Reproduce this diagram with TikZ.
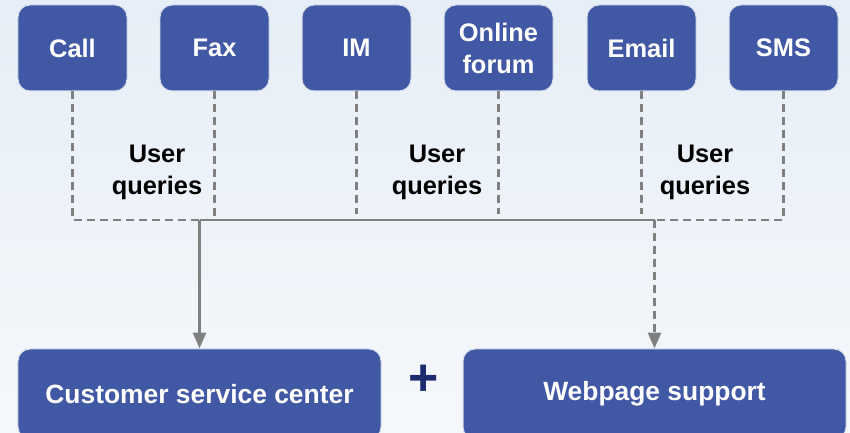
\documentclass[tikz,border=0pt]{standalone}
\usepackage{fontspec}
\setmainfont{Liberation Sans}
\usetikzlibrary{arrows.meta}
\definecolor{boxblue}{HTML}{4158A4}
\definecolor{boxedge}{HTML}{D5DDEA}
\definecolor{linegray}{HTML}{808080}
\definecolor{navy}{HTML}{1C2A6E}
\definecolor{skytop}{HTML}{E6EEF7}
\definecolor{skybot}{HTML}{F5F8FB}
\tikzset{
  chan/.style={draw=boxedge, line width=1pt, fill=boxblue, rounded corners=12bp,
    minimum width=109bp, minimum height=86bp, text=white, align=center,
    font=\bfseries\fontsize{25.5}{32}\selectfont, inner sep=0pt},
  bigbox/.style={chan, minimum height=90bp, font=\bfseries\fontsize{26.5}{32}\selectfont},
  dashline/.style={draw=linegray, line width=2.8bp, dash pattern=on 8bp off 5bp},
  solidline/.style={draw=linegray, line width=2.8bp},
  tip/.style={-{Triangle[width=13bp,length=16bp]}},
  lbl/.style={align=center, font=\bfseries\fontsize{25.5}{32}\selectfont, text=black}
}
\begin{document}
\begin{tikzpicture}[x=1bp,y=-1bp]
\useasboundingbox (0,0) rectangle (850,433);
\shade[top color=skytop, bottom color=skybot] (0,0) rectangle (850,433);
\node[chan] (call) at (72.5,48) {Call};
\node[chan] (fax) at (214.5,48) {Fax};
\node[chan] (im) at (356.5,48) {IM};
\node[chan] (forum) at (498.5,48) {Online\\forum};
\node[chan] (email) at (641.5,48) {Email};
\node[chan] (sms) at (783.5,48) {SMS};
\node[bigbox, minimum width=363bp] (csc) at (199.5,394) {Customer service center};
\node[bigbox, minimum width=383bp] (web) at (654.5,394) {Webpage support};
\node[font=\bfseries\fontsize{52}{52}\selectfont, text=navy] (plus) at (424,380) {+};
\node[lbl] (q1) at (157,172) {User\\queries};
\node[lbl] (q2) at (437,172) {User\\queries};
\node[lbl] (q3) at (705,172) {User\\queries};
\coordinate (jL) at (199.5,220);
\coordinate (jR) at (654.5,220);
\coordinate (imend) at (356.5,214);
\coordinate (forumend) at (498.5,214);
\coordinate (emailend) at (641.5,214);
\draw[dashline] (call.south) |- (jL);
\draw[dashline] (fax.south) -- (fax.south |- jL);
\draw[dashline] (im.south) -- (imend);
\draw[dashline] (forum.south) -- (forumend);
\draw[dashline] (email.south) -- (emailend);
\draw[dashline] (sms.south) |- (jR);
\draw[solidline] (jL) -- (jR);
\draw[solidline, tip] (jL) -- (csc.north);
\draw[dashline, tip] (jR) -- (web.north);
\end{tikzpicture}
\end{document}
